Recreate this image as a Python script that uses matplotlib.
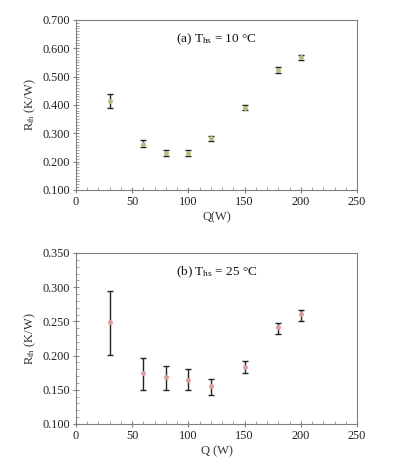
import numpy as np
import matplotlib
matplotlib.use("Agg")
import matplotlib.pyplot as plt
from matplotlib.ticker import MultipleLocator, FormatStrFormatter

plt.rcParams['font.family'] = ['Liberation Serif', 'DejaVu Serif']
plt.rcParams['mathtext.fontset'] = 'custom'
plt.rcParams['mathtext.rm'] = 'Liberation Serif'
plt.rcParams['mathtext.it'] = 'Liberation Serif'

# heat load (W)
Q = [30, 60, 80, 100, 120, 150, 180, 200]

# (a) T_hs = 10 C
r_a = [0.415, 0.263, 0.232, 0.231, 0.284, 0.391, 0.525, 0.569]
lo_a = [0.389, 0.250, 0.221, 0.221, 0.273, 0.382, 0.512, 0.560]
hi_a = [0.438, 0.278, 0.242, 0.240, 0.292, 0.400, 0.534, 0.578]

# (b) T_hs = 25 C
r_b = [0.249, 0.175, 0.169, 0.165, 0.156, 0.184, 0.242, 0.261]
lo_b = [0.201, 0.150, 0.150, 0.150, 0.143, 0.174, 0.232, 0.251]
hi_b = [0.295, 0.196, 0.185, 0.180, 0.166, 0.192, 0.248, 0.267]

fig = plt.figure(figsize=(3.95, 4.72), dpi=100)
ax1 = fig.add_axes([0.1924, 0.5975, 0.7114, 0.3602])
ax2 = fig.add_axes([0.1924, 0.1017, 0.7114, 0.3623])

def draw(ax, r, lo, hi, col, ylim, ymaj, label, xlab):
    r = np.array(r)
    err = [r - np.array(lo), np.array(hi) - r]
    ax.errorbar(Q, r, yerr=err, fmt='none', ecolor='#222222', elinewidth=1.0,
                capsize=2.4, capthick=1.0, zorder=2)
    ax.plot(Q, r, 'o', ms=2.5, color=col, mec=col, zorder=3)
    ax.set_xlim(0, 250)
    ax.set_ylim(*ylim)
    ax.xaxis.set_major_locator(MultipleLocator(50))
    ax.xaxis.set_minor_locator(MultipleLocator(10))
    ax.yaxis.set_major_locator(MultipleLocator(ymaj))
    ax.yaxis.set_minor_locator(MultipleLocator(0.01))
    ax.yaxis.set_major_formatter(FormatStrFormatter('%.3f'))
    ax.tick_params(which='major', direction='inout', length=5, width=0.8,
                   color='#808080', labelsize=8.8, labelcolor='#222222', pad=2)
    ax.tick_params(which='minor', direction='in', length=2.5, width=0.6, color='#909090')
    ax.tick_params(axis='x', which='minor', top=False)
    ax.tick_params(axis='y', which='minor', right=False)
    for s in ax.spines.values():
        s.set_color('#808080')
        s.set_linewidth(0.8)
    ax.set_ylabel(r'R$_{\mathrm{th}}$ (K/W)', fontsize=9, color='#333333', labelpad=3)
    ax.set_xlabel(xlab, fontsize=9, color='#333333', labelpad=2)
    ax.text(0.5, 0.885, label, transform=ax.transAxes, ha='center', va='center',
            fontsize=9.5, color='#111111')

draw(ax1, r_a, lo_a, hi_a, '#a9c47f', (0.1, 0.7), 0.1,
     r'(a) T$_{\mathrm{hs}}$ = 10 °C', 'Q(W)')
draw(ax2, r_b, lo_b, hi_b, '#e29a9a', (0.1, 0.35), 0.05,
     r'(b) T$_{\mathrm{hs}}$ = 25 °C', 'Q (W)')

fig.savefig('out.png', dpi=100)
